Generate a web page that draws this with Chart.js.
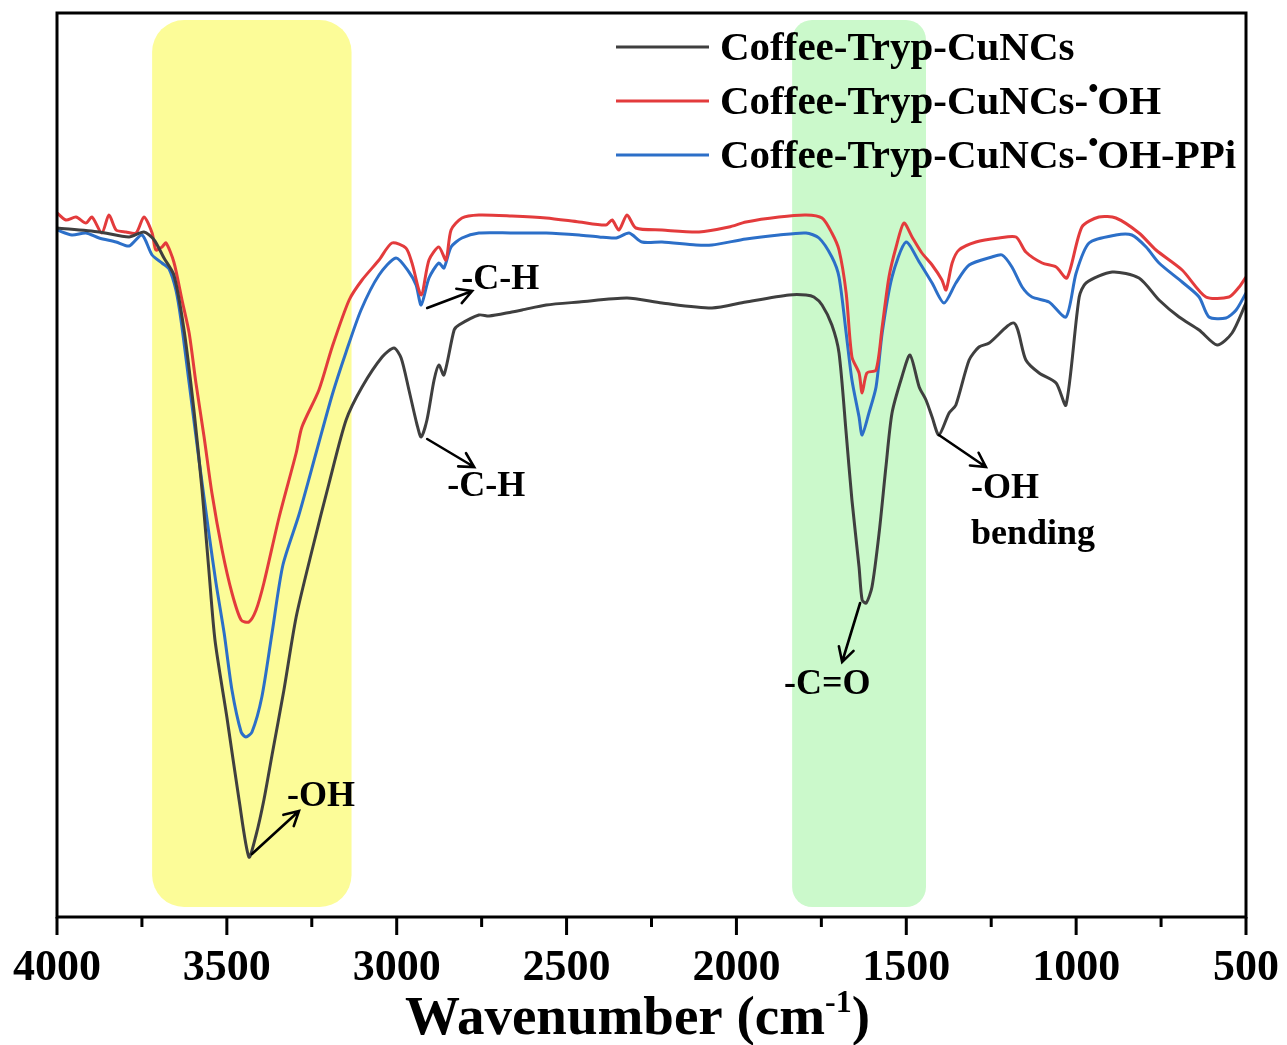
<!DOCTYPE html>
<html>
<head>
<meta charset="utf-8">
<title>FTIR spectra</title>
<script src="https://cdn.jsdelivr.net/npm/chart.js@4.4.0/dist/chart.umd.min.js"></script>
<style>
  html, body { margin: 0; padding: 0; background: #fff; }
  #wrap { width: 1287px; height: 1045px; }
</style>
</head>
<body>
<div id="wrap"><canvas id="ftir" width="1287" height="1045"></canvas></div>
<script>
// series names
const seriesNames = ['Coffee-Tryp-CuNCs', 'Coffee-Tryp-CuNCs-•OH', 'Coffee-Tryp-CuNCs-•OH-PPi'];

// Coffee-Tryp-CuNCs: wavenumber (cm-1) / transmittance (a.u.)
const blackWn = [4000, 3876, 3788, 3744, 3714, 3685, 3656, 3626, 3597, 3573,
  3553, 3535, 3500, 3464, 3435, 3414, 3391, 3367, 3332, 3296,
  3249, 3199, 3149, 3102, 3043, 3008, 2987, 2964, 2940, 2928,
  2911, 2890, 2876, 2861, 2831, 2817, 2758, 2728, 2661, 2631,
  2560, 2463, 2322, 2219, 2072, 1972, 1845, 1795, 1772, 1748,
  1719, 1698, 1677, 1660, 1639, 1630, 1618, 1601, 1580, 1560,
  1542, 1513, 1489, 1462, 1442, 1424, 1404, 1374, 1354, 1315,
  1286, 1256, 1183, 1148, 1109, 1059, 1030, 991, 971, 894,
  815, 756, 697, 638, 585, 541, 500];
const blackT = [68.7, 68.3, 67.8, 68.3, 67.5, 65.7, 64.0, 58.5, 50.5, 42.5,
  34.5, 27.5, 19.8, 11.5, 5.8, 8.0, 11.5, 16.0, 22.5, 29.8,
  36.5, 43.2, 49.5, 52.8, 55.8, 56.7, 55.7, 52.5, 49.0, 47.8,
  49.5, 53.5, 55.0, 54.0, 58.5, 59.0, 60.0, 59.9, 60.3, 60.5,
  61.0, 61.3, 61.7, 61.2, 60.7, 61.3, 62.0, 62.0, 61.8, 61.0,
  59.0, 56.2, 48.2, 41.5, 34.8, 31.5, 31.2, 32.8, 38.2, 44.8,
  50.2, 53.8, 56.0, 52.8, 51.5, 49.8, 48.0, 50.2, 51.0, 55.5,
  56.8, 57.2, 59.2, 55.5, 54.2, 53.2, 51.0, 61.8, 63.2, 64.3,
  63.7, 61.5, 59.8, 58.5, 57.0, 58.2, 61.2];

// Coffee-Tryp-CuNCs-•OH
const redWn = [4000, 3974, 3944, 3915, 3897, 3868, 3847, 3826, 3797, 3767,
  3744, 3720, 3709, 3691, 3679, 3656, 3632, 3611, 3591, 3567,
  3544, 3514, 3485, 3458, 3435, 3414, 3391, 3346, 3296, 3279,
  3229, 3190, 3140, 3102, 3052, 3014, 2973, 2955, 2928, 2905,
  2876, 2855, 2840, 2808, 2758, 2661, 2560, 2463, 2384, 2366,
  2346, 2322, 2296, 2219, 2110, 2022, 1972, 1875, 1795, 1748,
  1719, 1698, 1677, 1660, 1639, 1630, 1616, 1589, 1571, 1551,
  1530, 1507, 1483, 1454, 1424, 1395, 1383, 1365, 1345, 1295,
  1227, 1177, 1148, 1100, 1059, 1027, 983, 933, 883, 815,
  765, 688, 618, 550, 520, 500];
const redT = [70.2, 69.5, 69.8, 69.2, 69.8, 68.2, 70.0, 68.5, 68.3, 68.2,
  69.8, 68.2, 66.5, 66.8, 67.2, 65.3, 61.5, 58.2, 53.2, 47.8,
  42.2, 36.5, 32.2, 29.5, 29.3, 30.5, 33.2, 39.8, 46.2, 48.8,
  52.5, 56.8, 61.5, 63.5, 65.5, 67.2, 66.7, 65.2, 62.0, 65.5,
  66.8, 65.5, 68.5, 69.7, 70.0, 69.9, 69.7, 69.3, 69.0, 69.5,
  68.5, 70.0, 68.7, 68.5, 68.3, 68.8, 69.3, 69.8, 70.0, 69.7,
  68.2, 66.5, 62.2, 55.8, 54.2, 52.2, 54.2, 54.5, 58.8, 63.8,
  66.8, 69.2, 67.8, 66.2, 65.0, 63.5, 62.5, 65.2, 66.5, 67.3,
  67.7, 67.8, 66.3, 65.2, 64.8, 63.7, 68.8, 69.8, 69.7, 68.2,
  66.5, 64.5, 61.8, 61.8, 62.8, 63.8];

// Coffee-Tryp-CuNCs-•OH-PPi
const blueWn = [4000, 3956, 3915, 3876, 3826, 3788, 3750, 3720, 3691, 3670,
  3650, 3635, 3611, 3582, 3553, 3532, 3508, 3485, 3458, 3444,
  3426, 3397, 3367, 3335, 3288, 3235, 3190, 3149, 3105, 3052,
  3002, 2964, 2943, 2928, 2905, 2876, 2861, 2840, 2808, 2758,
  2661, 2560, 2463, 2404, 2354, 2316, 2278, 2219, 2119, 2072,
  1972, 1875, 1795, 1757, 1719, 1698, 1677, 1660, 1639, 1630,
  1610, 1589, 1571, 1542, 1501, 1462, 1424, 1389, 1354, 1315,
  1248, 1218, 1189, 1159, 1130, 1080, 1030, 1000, 962, 883,
  836, 794, 756, 688, 638, 609, 559, 529, 500];
const blueT = [68.5, 68.0, 68.2, 67.7, 67.3, 66.9, 68.0, 66.0, 65.2, 64.6,
  62.5, 59.5, 53.2, 45.5, 38.2, 33.2, 28.2, 22.5, 18.3, 17.8,
  18.3, 21.8, 28.2, 35.0, 40.0, 46.5, 52.0, 56.3, 60.5, 64.0,
  65.7, 64.3, 63.0, 61.0, 63.7, 65.2, 64.7, 66.8, 67.7, 68.2,
  68.2, 68.2, 68.0, 67.8, 67.7, 68.2, 67.3, 67.3, 67.0, 67.0,
  67.6, 68.0, 68.2, 67.7, 65.8, 63.8, 58.2, 53.5, 49.8, 48.0,
  50.2, 52.8, 58.2, 63.8, 67.3, 65.3, 63.2, 61.2, 63.2, 65.0,
  65.8, 66.0, 64.8, 62.8, 61.8, 61.3, 59.8, 64.2, 67.2, 68.0,
  68.0, 66.8, 65.2, 63.3, 61.8, 59.8, 59.7, 60.5, 62.2];

// axis ticks
const xTicksMajor = [4000, 3500, 3000, 2500, 2000, 1500, 1000, 500];
const xTicksMinor = [3750, 3250, 2750, 2250, 1750, 1250, 750];

// shaded bands (cm-1)
const ohBand = [3720, 3133];
const coBand = [1836, 1442];

const seriesWn = [blackWn, redWn, blueWn];
const seriesT = [blackT, redT, blueT];

const SERIF = '"Liberation Serif", "Times New Roman", serif';

function toPoints(wn, t) {
  return wn.map((w, i) => ({ x: w, y: t[i] }));
}

// peak labels, tied to a point of one of the series
const notes = [
  { series: 0, wn: 3435, from: [3, -3], to: [50, -46], text: ['-OH'], at: [38, -60] },
  { series: 2, wn: 2928, from: [6, 3], to: [51, -14], text: ['-C-H'], at: [40, -25] },
  { series: 0, wn: 2928, from: [6, 2], to: [53, 30], text: ['-C-H'], at: [26, 50] },
  { series: 0, wn: 1630, from: [-2, 3], to: [-20, 62], text: ['-C=O'], at: [-78, 85] },
  { series: 0, wn: 1404, from: [0, 0], to: [47, 32], text: ['-OH', 'bending'], at: [32, 54] }
];

function drawArrow(ctx, x1, y1, x2, y2) {
  const a = Math.atan2(y2 - y1, x2 - x1);
  const h = 16;
  ctx.beginPath();
  ctx.moveTo(x1, y1);
  ctx.lineTo(x2, y2);
  ctx.moveTo(x2 - h * Math.cos(a - 0.5), y2 - h * Math.sin(a - 0.5));
  ctx.lineTo(x2, y2);
  ctx.lineTo(x2 - h * Math.cos(a + 0.5), y2 - h * Math.sin(a + 0.5));
  ctx.stroke();
}

// text with the radical dot raised
function drawLabel(ctx, label, x, y, size) {
  const parts = label.split('•');
  ctx.textAlign = 'left';
  ctx.textBaseline = 'alphabetic';
  parts.forEach((p, i) => {
    ctx.font = `bold ${size}px ${SERIF}`;
    ctx.fillText(p, x, y);
    x += ctx.measureText(p).width;
    if (i < parts.length - 1) {
      ctx.font = `bold ${Math.round(size * 0.7)}px ${SERIF}`;
      ctx.fillText('•', x, y - size * 0.4);
      x += ctx.measureText('•').width * 0.9;
    }
  });
}

const bandsPlugin = {
  id: 'bands',
  beforeDatasetsDraw(chart) {
    const { ctx, chartArea, scales } = chart;
    const draw = (range, color, r) => {
      const x1 = scales.x.getPixelForValue(range[0]);
      const x2 = scales.x.getPixelForValue(range[1]);
      ctx.save();
      ctx.fillStyle = color;
      ctx.beginPath();
      ctx.roundRect(Math.min(x1, x2), chartArea.top + 7, Math.abs(x2 - x1), chartArea.height - 17, r);
      ctx.fill();
      ctx.restore();
    };
    draw(ohBand, '#fcfc98', 32);
    draw(coBand, '#cbf9cb', 20);
  }
};

const framePlugin = {
  id: 'frame',
  afterDatasetsDraw(chart) {
    const { ctx, chartArea, scales } = chart;
    ctx.save();
    ctx.strokeStyle = '#000';
    ctx.lineWidth = 3;
    ctx.strokeRect(chartArea.left, chartArea.top, chartArea.width, chartArea.height);
    ctx.beginPath();
    xTicksMajor.forEach(v => {
      const x = scales.x.getPixelForValue(v);
      ctx.moveTo(x, chartArea.bottom);
      ctx.lineTo(x, chartArea.bottom + 18);
    });
    xTicksMinor.forEach(v => {
      const x = scales.x.getPixelForValue(v);
      ctx.moveTo(x, chartArea.bottom);
      ctx.lineTo(x, chartArea.bottom + 10);
    });
    ctx.stroke();
    ctx.restore();
  }
};

const notesPlugin = {
  id: 'notes',
  afterDatasetsDraw(chart) {
    const { ctx, scales } = chart;
    ctx.save();
    ctx.strokeStyle = '#000';
    ctx.fillStyle = '#000';
    ctx.lineWidth = 2.6;
    ctx.lineCap = 'round';
    notes.forEach(n => {
      const i = seriesWn[n.series].indexOf(n.wn);
      const px = scales.x.getPixelForValue(seriesWn[n.series][i]);
      const py = scales.y.getPixelForValue(seriesT[n.series][i]);
      drawArrow(ctx, px + n.from[0], py + n.from[1], px + n.to[0], py + n.to[1]);
      ctx.font = `bold 36px ${SERIF}`;
      ctx.textAlign = 'left';
      ctx.textBaseline = 'middle';
      n.text.forEach((t, k) => {
        ctx.fillText(t, px + n.at[0], py + n.at[1] + k * 46);
      });
    });
    ctx.restore();
  }
};

const legendPlugin = {
  id: 'sideLegend',
  afterDraw(chart) {
    const { ctx, chartArea } = chart;
    const x0 = chartArea.left + 559;
    ctx.save();
    chart.data.datasets.forEach((ds, i) => {
      const y = chartArea.top + 34 + i * 54;
      ctx.strokeStyle = ds.borderColor;
      ctx.lineWidth = 3;
      ctx.beginPath();
      ctx.moveTo(x0, y);
      ctx.lineTo(x0 + 93, y);
      ctx.stroke();
      ctx.fillStyle = '#000';
      drawLabel(ctx, ds.label, x0 + 104, y + 13, 41);
    });
    ctx.restore();
  }
};

const titlePlugin = {
  id: 'xTitle',
  afterDraw(chart) {
    const { ctx, chartArea } = chart;
    const main = 'Wavenumber (cm';
    const sup = '-1';
    const tail = ')';
    ctx.save();
    ctx.fillStyle = '#000';
    ctx.textBaseline = 'alphabetic';
    ctx.textAlign = 'left';
    ctx.font = `bold 55px ${SERIF}`;
    const wMain = ctx.measureText(main).width;
    const wTail = ctx.measureText(tail).width;
    ctx.font = `bold 32px ${SERIF}`;
    const wSup = ctx.measureText(sup).width;
    let x = (chartArea.left + chartArea.right) / 2 - 14 - (wMain + wSup + wTail) / 2;
    const y = 1034;
    ctx.font = `bold 55px ${SERIF}`;
    ctx.fillText(main, x, y);
    x += wMain;
    ctx.font = `bold 32px ${SERIF}`;
    ctx.fillText(sup, x, y - 22);
    x += wSup;
    ctx.font = `bold 55px ${SERIF}`;
    ctx.fillText(tail, x, y);
    ctx.restore();
  }
};

new Chart(document.getElementById('ftir'), {
  type: 'line',
  data: {
    datasets: [
      { label: seriesNames[0], data: toPoints(blackWn, blackT), borderColor: '#3f3f3f' },
      { label: seriesNames[1], data: toPoints(redWn, redT), borderColor: '#e33b3c' },
      { label: seriesNames[2], data: toPoints(blueWn, blueT), borderColor: '#2c6fc8' }
    ]
  },
  options: {
    responsive: false,
    animation: false,
    datasets: {
      line: { borderWidth: 3, pointRadius: 0, tension: 0.25, fill: false }
    },
    layout: { padding: { left: 57, right: 40, top: 13, bottom: 0 } },
    plugins: {
      legend: { display: false },
      tooltip: { enabled: false }
    },
    scales: {
      x: {
        type: 'linear',
        reverse: true,
        min: 500,
        max: 4000,
        grid: { display: false, drawTicks: true, tickLength: 17 },
        border: { display: false },
        ticks: {
          stepSize: 250,
          autoSkip: false,
          maxRotation: 0,
          padding: 8,
          color: '#000',
          font: { family: SERIF, size: 44, weight: 'bold' },
          callback: v => (xTicksMajor.includes(v) ? String(v) : '')
        },
        afterFit: scale => { scale.height = 128; }
      },
      y: {
        display: false,
        min: -0.2,
        max: 90.2
      }
    }
  },
  plugins: [bandsPlugin, framePlugin, notesPlugin, legendPlugin, titlePlugin]
});
</script>
</body>
</html>
